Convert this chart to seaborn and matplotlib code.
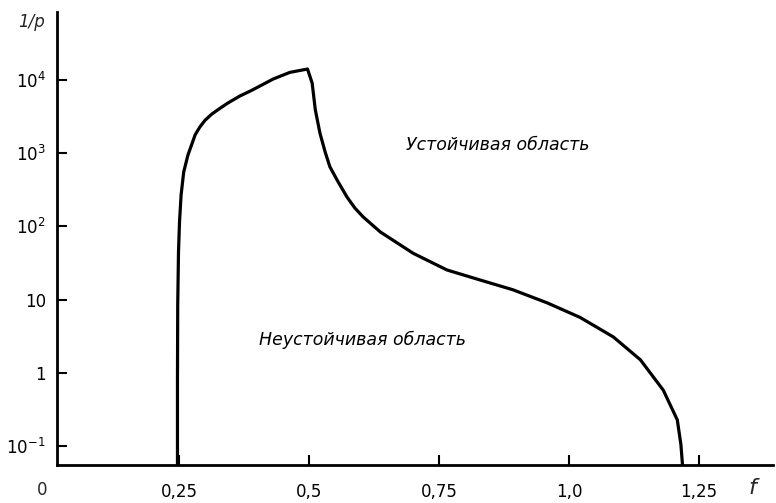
import matplotlib
matplotlib.use("Agg")
from matplotlib import pyplot as plt
import pandas as pd
import seaborn as sns

# boundary curve: frequency f and 1/p (log scale)
f_vals = [0.247, 0.247, 0.2475, 0.249, 0.251, 0.254, 0.259, 0.267, 0.281, 0.290,
          0.300, 0.313, 0.329, 0.344, 0.367, 0.387, 0.400, 0.431, 0.463, 0.497,
          0.506, 0.512, 0.521, 0.531, 0.540, 0.554, 0.573, 0.588, 0.604, 0.637,
          0.700, 0.765, 0.829, 0.892, 0.958, 1.021, 1.085, 1.137, 1.181, 1.208,
          1.215, 1.218]
inv_p = [0.0546, 0.77, 8.4, 45, 117, 270, 555, 940, 1790, 2290,
         2830, 3440, 4140, 4880, 6080, 7110, 7940, 10380, 12790, 14230,
         9120, 3950, 1880, 1040, 656, 430, 252, 179, 135, 84,
         43, 25.4, 18.5, 13.6, 9.0, 5.7, 3.08, 1.50, 0.577, 0.226,
         0.103, 0.0546]

x_ticks = [0.25, 0.5, 0.75, 1.0, 1.25]
x_labels = ["0,25", "0,5", "0,75", "1,0", "1,25"]
y_ticks = [1e-1, 1, 10, 1e2, 1e3, 1e4]
y_labels = [r"$10^{-1}$", "1", "10", r"$10^{2}$", r"$10^{3}$", r"$10^{4}$"]

df = pd.DataFrame({"f": f_vals, "inv_p": inv_p})

sns.set_style("ticks")
plt.rcParams["font.family"] = ["DejaVu Sans"]
plt.rcParams["mathtext.fontset"] = "dejavusans"

fig = plt.figure(figsize=(7.76, 5.03), dpi=100)
ax = fig.add_axes([57 / 776, 1 - 465 / 503, (773 - 57) / 776, (465 - 12) / 503])

sns.lineplot(data=df, x="f", y="inv_p", sort=False, estimator=None,
             color="black", linewidth=2.3, ax=ax)
ax.set_yscale("log")
ax.set_xlim(0.0154, 1.392)
ax.set_ylim(10 ** -1.263, 10 ** 4.933)

ax.set_xticks(x_ticks)
ax.set_xticklabels(x_labels)
ax.set_yticks(y_ticks)
ax.set_yticklabels(y_labels)
ax.minorticks_off()
ax.tick_params(direction="in", length=7, width=1.5, colors="black",
               labelsize=12, pad=8)
ax.tick_params(axis="x", pad=13)
ax.set_xlabel("")
ax.set_ylabel("")

for side in ["top", "right"]:
    ax.spines[side].set_visible(False)
for side in ["left", "bottom"]:
    ax.spines[side].set_linewidth(2)
    ax.spines[side].set_color("black")

ax.text(0.863, 1300, "Устойчивая область", fontsize=12.5, style="italic",
        color="black", ha="center", va="center")
ax.text(0.602, 2.8, "Неустойчивая область", fontsize=12.5, style="italic",
        color="black", ha="center", va="center")

fig.text(42 / 776, 1 - 490 / 503, "0", fontsize=12, ha="center", va="center")
fig.text(752 / 776, 1 - 488 / 503, "f", fontsize=16, style="italic",
         ha="center", va="center")
fig.text(32 / 776, 1 - 22 / 503, "1/p", fontsize=12, style="italic",
         ha="center", va="center")

plt.savefig("out.png", dpi=100)
plt.close()
